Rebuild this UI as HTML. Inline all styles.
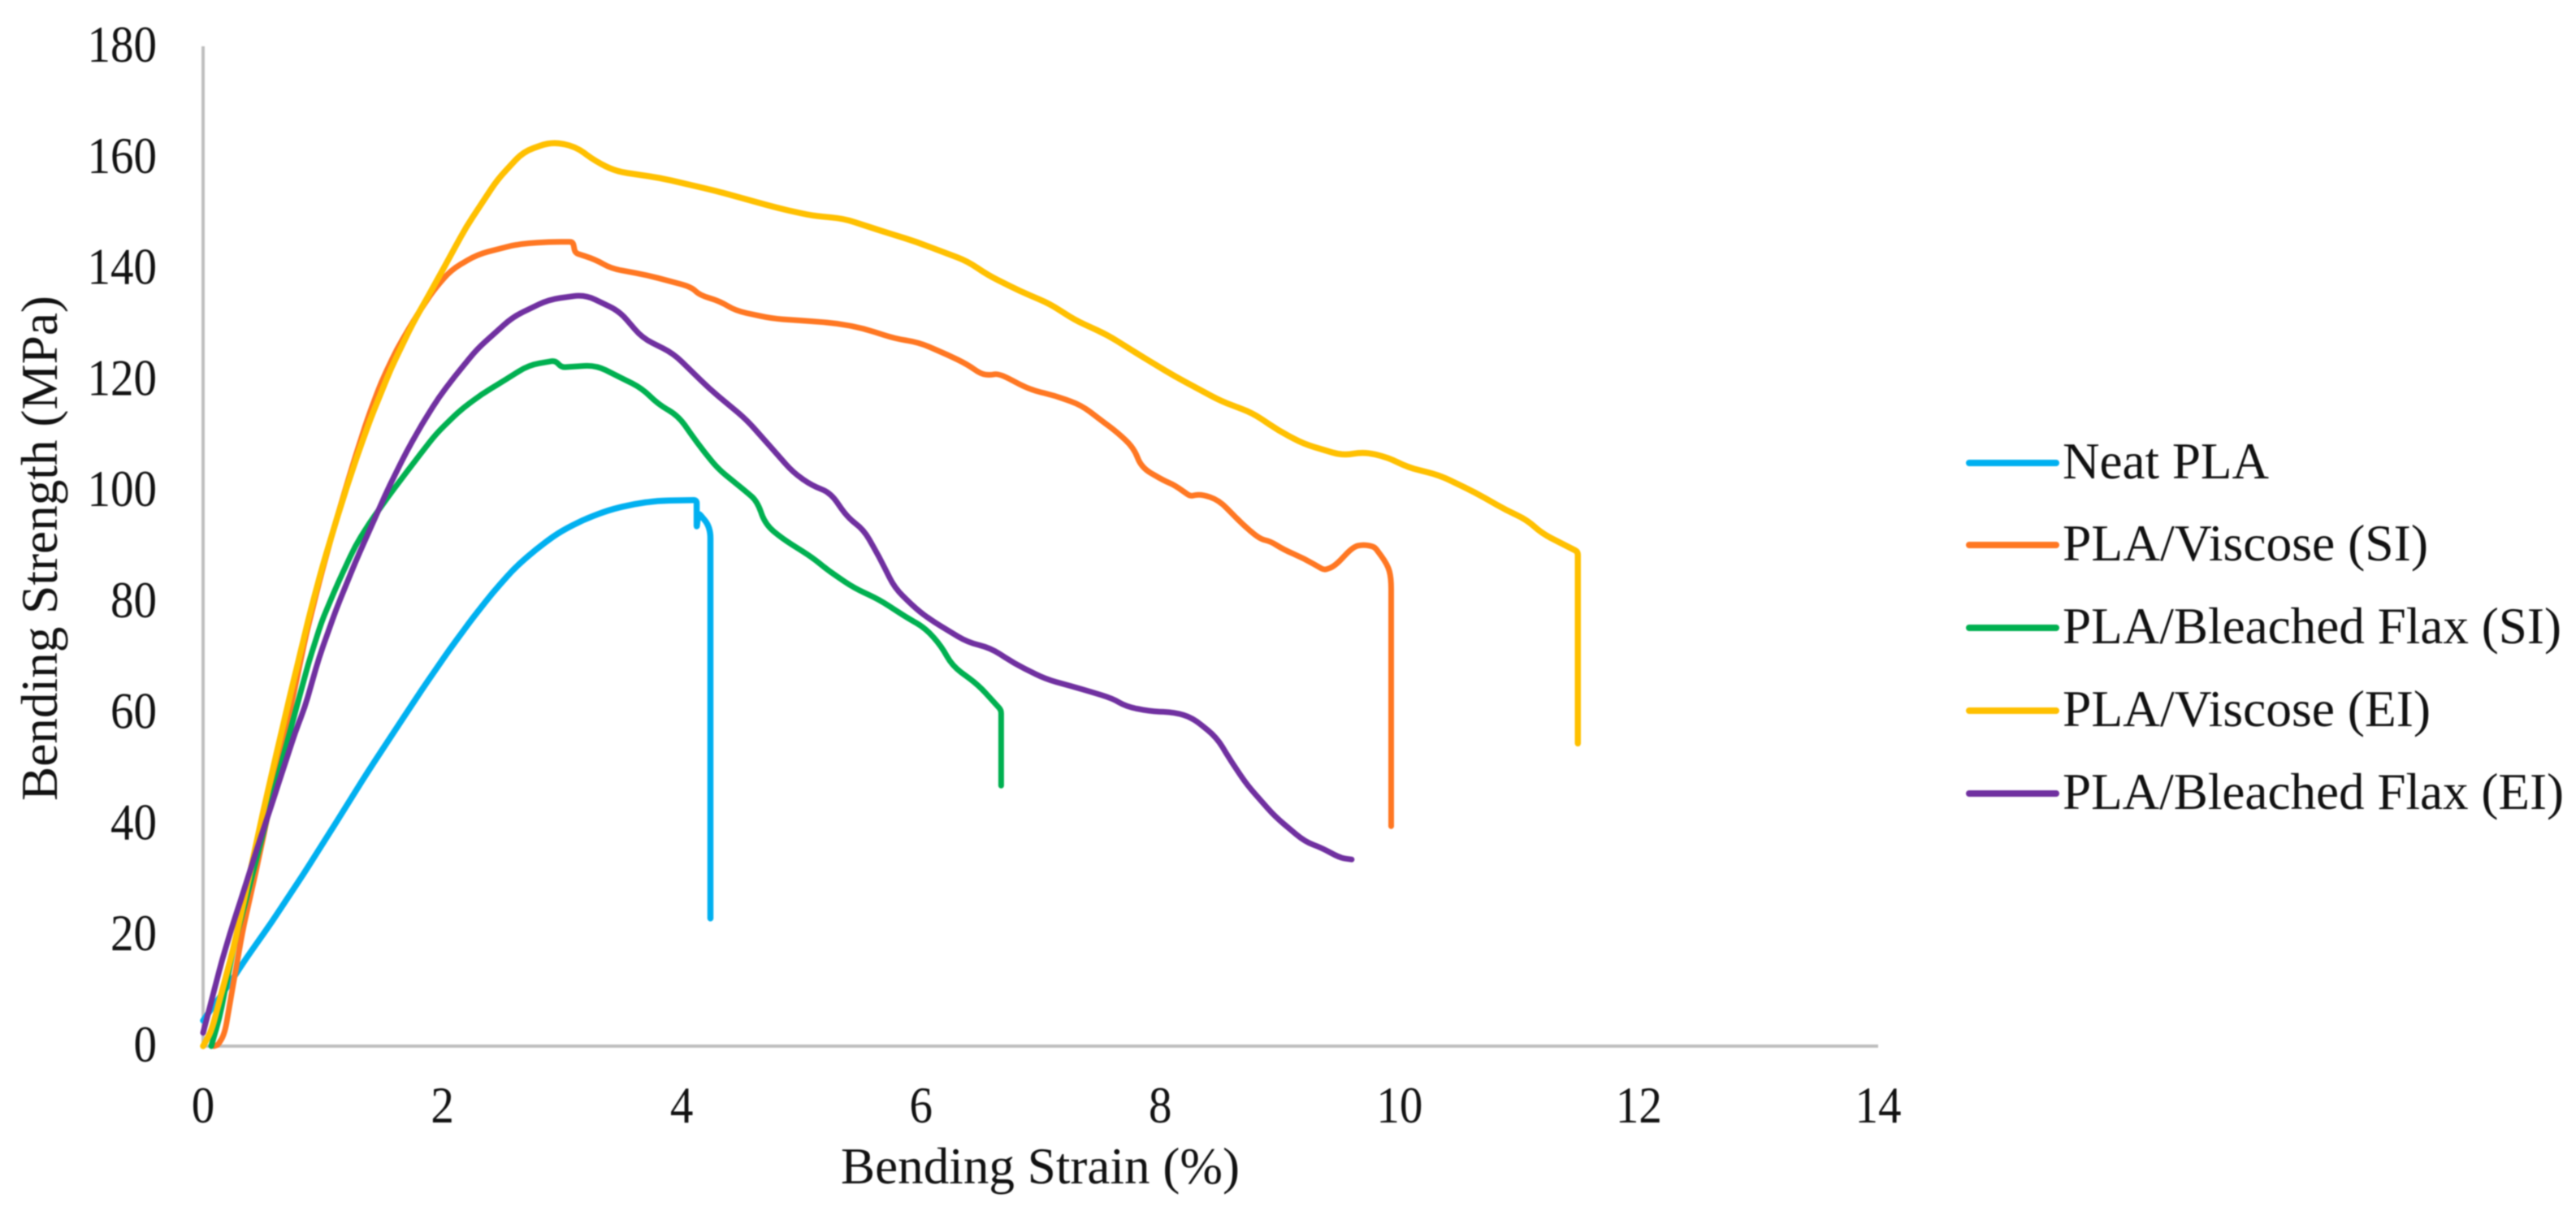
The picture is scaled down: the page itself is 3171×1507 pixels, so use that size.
<!DOCTYPE html>
<html lang="en">
<head>
<meta charset="utf-8">
<title>Bending strength vs bending strain</title>
<style>
html,body{margin:0;padding:0;background:#fff;}
body{width:3171px;height:1507px;overflow:hidden;}
svg{display:block;font-family:"Liberation Serif",serif;fill:#111;filter:blur(0.8px);}
</style>
</head>
<body>
<svg id="chart" width="3171" height="1507" viewBox="0 0 3171 1507" xmlns="http://www.w3.org/2000/svg">
  <rect x="0" y="0" width="3171" height="1507" fill="#ffffff"/>
  <g id="axes"></g>
  <g id="series"></g>
  <text x="1035" y="1457" font-size="64" textLength="491" lengthAdjust="spacingAndGlyphs">Bending Strain (%)</text>
  <text transform="translate(70 986) rotate(-90)" x="0" y="0" font-size="64" textLength="622" lengthAdjust="spacingAndGlyphs">Bending Strength (MPa)</text>
  <g>
    <g>
      <line x1="2424" x2="2531" y1="570" y2="570" stroke="#00B0F0" stroke-width="8" stroke-linecap="round"/>
      <text x="2539" y="589" font-size="64" textLength="254" lengthAdjust="spacingAndGlyphs">Neat PLA</text>
    </g>
    <g>
      <line x1="2424" x2="2531" y1="671" y2="671" stroke="#FF7722" stroke-width="8" stroke-linecap="round"/>
      <text x="2539" y="690" font-size="64" textLength="450" lengthAdjust="spacingAndGlyphs">PLA/Viscose (SI)</text>
    </g>
    <g>
      <line x1="2424" x2="2531" y1="773" y2="773" stroke="#00B050" stroke-width="8" stroke-linecap="round"/>
      <text x="2539" y="792" font-size="64" textLength="614" lengthAdjust="spacingAndGlyphs">PLA/Bleached Flax (SI)</text>
    </g>
    <g>
      <line x1="2424" x2="2531" y1="875" y2="875" stroke="#FFC000" stroke-width="8" stroke-linecap="round"/>
      <text x="2539" y="894" font-size="64" textLength="453" lengthAdjust="spacingAndGlyphs">PLA/Viscose (EI)</text>
    </g>
    <g>
      <line x1="2424" x2="2531" y1="977" y2="977" stroke="#7030A0" stroke-width="8" stroke-linecap="round"/>
      <text x="2539" y="996" font-size="64" textLength="617" lengthAdjust="spacingAndGlyphs">PLA/Bleached Flax (EI)</text>
    </g>
  </g>
</svg>
<script>
var xTicks = [0, 2, 4, 6, 8, 10, 12, 14];
var yTicks = [0, 20, 40, 60, 80, 100, 120, 140, 160, 180];

var neatStrain = [0, 0.226, 0.36, 0.566, 0.837, 1.11, 1.38, 1.7, 1.88, 2.06, 2.24, 2.42, 2.6, 2.78, 2.96, 3.17, 3.39, 3.6, 3.8, 4.125, 4.125, 4.14, 4.24, 4.24];
var neatStress = [4.6, 11.4, 15.8, 22.1, 30.9, 40.2, 49.5, 60, 65.8, 71.4, 76.7, 81.6, 86, 89.4, 92.3, 94.7, 96.5, 97.6, 98.2, 98.3, 93.3, 96, 93.5, 23];

var viscoseSiStrain = [0.09, 0.124, 0.18, 0.25, 0.33, 0.42, 0.487, 0.54, 0.61, 0.7, 0.86, 0.97, 1.07, 1.18, 1.27, 1.38, 1.49, 1.62, 1.77, 1.92, 2.07, 2.29, 2.63, 2.89, 3.09, 3.11, 3.28, 3.41, 3.71, 4.08, 4.15, 4.32, 4.45, 4.75, 5.09, 5.31, 5.52, 5.78, 5.98, 6.22, 6.39, 6.5, 6.58, 6.65, 6.91, 7.12, 7.34, 7.51, 7.64, 7.78, 7.84, 8.03, 8.12, 8.25, 8.34, 8.49, 8.68, 8.83, 8.92, 9.03, 9.2, 9.37, 9.46, 9.61, 9.7, 9.79, 9.9, 9.93, 9.93];
var viscoseSiStress = [0, 0.2, 2.2, 10.9, 20.7, 29.4, 36, 41.5, 48.9, 57.6, 74, 83.5, 91.5, 99.6, 106, 113.3, 119.6, 125.5, 131, 135.9, 139.7, 142.5, 144.4, 144.8, 144.8, 142.8, 141.6, 140, 138.8, 136.7, 135.2, 134.1, 132.4, 131, 130.5, 130.1, 129.2, 127.4, 126.7, 124.5, 122.7, 121, 120.8, 121.1, 118.2, 117.1, 115.4, 112.6, 110.5, 107.7, 104.2, 101.8, 101, 99, 99.4, 98.3, 94.1, 91.3, 90.9, 89.4, 87.8, 85.7, 86.4, 89.9, 90.3, 89.9, 86.7, 84.3, 39.6];

var flaxSiStrain = [0.068, 0.136, 0.2, 0.27, 0.33, 0.63, 0.765, 0.88, 0.995, 1.13, 1.27, 1.4, 1.6, 1.76, 1.945, 2.15, 2.33, 2.53, 2.72, 2.94, 3, 3.28, 3.45, 3.67, 3.8, 3.97, 4.13, 4.3, 4.54, 4.63, 4.7, 4.84, 5.09, 5.22, 5.44, 5.65, 5.87, 6.04, 6.17, 6.26, 6.48, 6.67, 6.67];
var flaxSiStress = [0, 5, 11.9, 19.2, 24, 49, 59.7, 68.9, 76.7, 83.5, 90, 94.5, 100.5, 105, 110.2, 114.5, 117.4, 120, 122.6, 123.4, 122.2, 122.6, 120.8, 118.4, 115.6, 113.5, 108.6, 104, 99.8, 98.1, 93.9, 91.4, 88, 85.7, 82.5, 80.4, 77.3, 75.2, 72, 68.5, 65, 60.5, 46.9];

var viscoseEiStrain = [0, 0.068, 0.158, 0.25, 0.34, 0.42, 0.5, 0.59, 0.72, 0.815, 0.9, 1, 1.097, 1.2, 1.29, 1.4, 1.57, 1.75, 1.92, 2.06, 2.2, 2.46, 2.675, 2.91, 3.11, 3.28, 3.45, 3.82, 4.28, 4.8, 5.09, 5.35, 5.65, 5.96, 6.39, 6.56, 6.82, 7.08, 7.28, 7.56, 7.82, 8.12, 8.51, 8.77, 8.99, 9.2, 9.53, 9.7, 9.9, 10.07, 10.33, 10.63, 10.89, 11.06, 11.19, 11.49, 11.49];
var viscoseEiStress = [0, 2.6, 9.9, 17.3, 26, 34, 42, 50.5, 62.5, 71, 78.5, 86.5, 93.5, 100.6, 106.4, 113, 122, 130, 136.5, 142, 147.5, 156, 161, 162.8, 162, 159.3, 157.5, 156.3, 154, 150.9, 149.5, 149, 146.9, 144.8, 141.3, 138.8, 136, 133.6, 130.8, 128, 124.5, 120.6, 116.1, 114, 110.8, 108.4, 106.3, 107, 106, 104.2, 102.8, 99.7, 96.5, 94.8, 92.3, 89, 54.5];

var flaxEiStrain = [0, 0.068, 0.158, 0.25, 0.34, 0.45, 0.566, 0.656, 0.77, 0.85, 0.97, 1.11, 1.27, 1.4, 1.56, 1.7, 1.83, 1.97, 2.1, 2.29, 2.59, 2.89, 3.19, 3.48, 3.67, 3.93, 4.23, 4.54, 4.8, 4.93, 5.09, 5.24, 5.39, 5.52, 5.65, 5.78, 5.96, 6.09, 6.39, 6.58, 6.78, 7.04, 7.34, 7.6, 7.71, 7.9, 8.12, 8.27, 8.47, 8.6, 8.73, 8.96, 9.21, 9.35, 9.5, 9.6];
var flaxEiStress = [2.4, 8, 15.5, 22, 28, 35.5, 43, 49, 56.5, 61, 70, 78.5, 87, 93.3, 101, 107, 112, 116.8, 120.5, 125.5, 131.3, 134.4, 135.3, 132.3, 127.5, 124.7, 118.4, 112.8, 106.5, 103.3, 100.9, 99.7, 95.1, 93, 88.1, 82.5, 78.7, 76.6, 72.7, 71.7, 68.9, 66.1, 64.3, 62.6, 61.2, 60.3, 60.1, 59.1, 55.6, 51, 46.9, 41.3, 36.8, 35.7, 33.9, 33.6];

var NS = 'http://www.w3.org/2000/svg';
function xPos(v) { return 250 + v * (2312 - 250) / 14; }
function yPos(v) { return 1288 - v * (1288 - 57) / 180; }

var axes = document.getElementById('axes');

var yAxis = document.createElementNS(NS, 'line');


yAxis.setAttribute('x1', xPos(0));
yAxis.setAttribute('x2', xPos(0));
yAxis.setAttribute('y1', yPos(180));
yAxis.setAttribute('y2', yPos(0));
yAxis.setAttribute('stroke', '#bfbfbf');
yAxis.setAttribute('stroke-width', '4');
axes.appendChild(yAxis);

var xAxis = document.createElementNS(NS, 'line');


xAxis.setAttribute('x1', xPos(0));
xAxis.setAttribute('x2', xPos(14));
xAxis.setAttribute('y1', yPos(0));
xAxis.setAttribute('y2', yPos(0));
xAxis.setAttribute('stroke', '#bfbfbf');
xAxis.setAttribute('stroke-width', '4');
axes.appendChild(xAxis);

yTicks.forEach(function (t) {
  var el = document.createElementNS(NS, 'text');
  
  
  el.setAttribute('x', 193);
  el.setAttribute('y', yPos(t) + 19);
  el.setAttribute('font-size', '64');
  el.setAttribute('text-anchor', 'end');
  el.setAttribute('textLength', String(t).length * 28.5);
  el.setAttribute('lengthAdjust', 'spacingAndGlyphs');
  el.textContent = String(t);
  axes.appendChild(el);
});

xTicks.forEach(function (t) {
  var el = document.createElementNS(NS, 'text');
  
  
  el.setAttribute('x', xPos(t));
  el.setAttribute('y', 1382);
  el.setAttribute('font-size', '64');
  el.setAttribute('text-anchor', 'middle');
  el.setAttribute('textLength', String(t).length * 28.5);
  el.setAttribute('lengthAdjust', 'spacingAndGlyphs');
  el.textContent = String(t);
  axes.appendChild(el);
});

var seriesGroup = document.getElementById('series');

function roundedPath(xs, ys) {
  var d = 'M' + xs[0].toFixed(1) + ' ' + ys[0].toFixed(1);
  for (var i = 1; i < xs.length - 1; i++) {
    var ax = xs[i] - xs[i - 1], ay = ys[i] - ys[i - 1];
    var bx = xs[i + 1] - xs[i], by = ys[i + 1] - ys[i];
    var la = Math.hypot(ax, ay) || 1, lb = Math.hypot(bx, by) || 1;
    var turn = (ax * bx + ay * by) / (la * lb);
    var limit = turn < 0.75 ? 4 : 14;
    var ra = Math.min(la / 2, limit), rb = Math.min(lb / 2, limit);
    d += 'L' + (xs[i] - ax / la * ra).toFixed(1) + ' ' + (ys[i] - ay / la * ra).toFixed(1);
    d += 'Q' + xs[i].toFixed(1) + ' ' + ys[i].toFixed(1) + ' ' + (xs[i] + bx / lb * rb).toFixed(1) + ' ' + (ys[i] + by / lb * rb).toFixed(1);
  }
  var n = xs.length - 1;
  d += 'L' + xs[n].toFixed(1) + ' ' + ys[n].toFixed(1);
  return d;
}

function drawSeries(name, strain, stress, color, width) {
  var line = document.createElementNS(NS, 'path');
  
  
  line.setAttribute('d', roundedPath(strain.map(xPos), stress.map(yPos)));
  line.setAttribute('fill', 'none');
  line.setAttribute('stroke', color);
  line.setAttribute('stroke-width', width);
  line.setAttribute('stroke-linejoin', 'round');
  line.setAttribute('stroke-linecap', 'round');
  seriesGroup.appendChild(line);
}

drawSeries('line-neat-pla', neatStrain, neatStress, '#00B0F0', 7.5);
drawSeries('line-viscose-si', viscoseSiStrain, viscoseSiStress, '#FF7722', 7);
drawSeries('line-flax-si', flaxSiStrain, flaxSiStress, '#00B050', 7);
drawSeries('line-viscose-ei', viscoseEiStrain, viscoseEiStress, '#FFC000', 7.5);
drawSeries('line-flax-ei', flaxEiStrain, flaxEiStress, '#7030A0', 7);
</script>
</body>
</html>
